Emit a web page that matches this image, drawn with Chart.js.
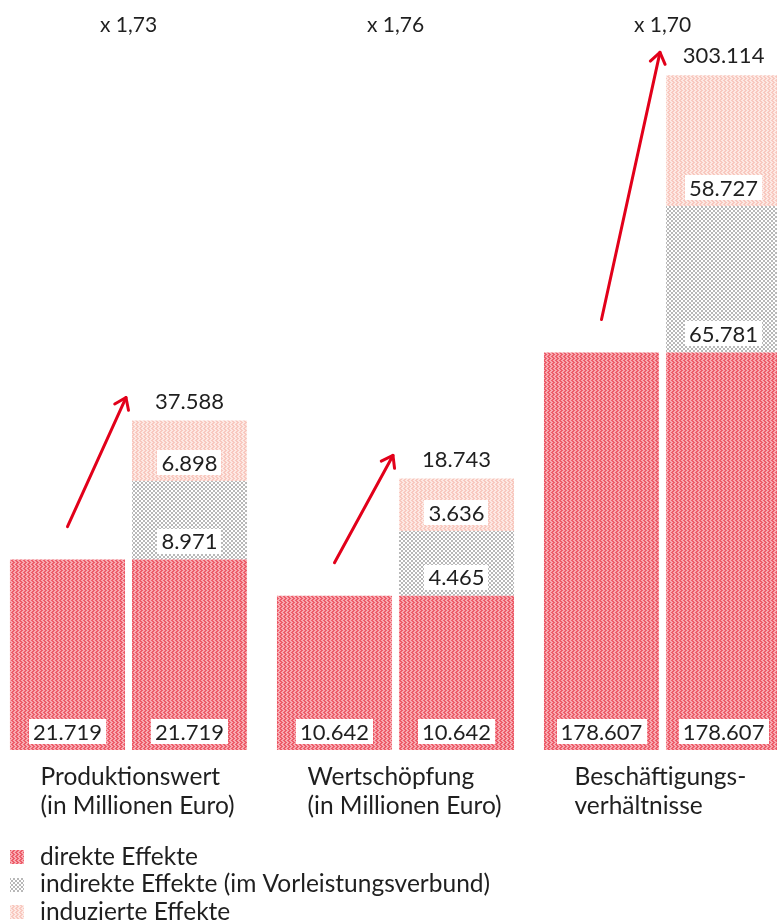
<!DOCTYPE html>
<html><head><meta charset="utf-8">
<script src="https://cdn.jsdelivr.net/npm/chart.js@4.4.1/dist/chart.umd.min.js"></script>
<style>
html,body{margin:0;padding:0;background:#fff;overflow:hidden;width:777px;height:923px}
#wrap{position:absolute;left:-5px;top:0;width:801px;height:923px}
</style></head><body><div id="wrap"><canvas id="c"></canvas></div>
<script>
// ---- data ----
const categories = [['Produktionswert','(in Millionen Euro)'],['Wertschöpfung','(in Millionen Euro)'],['Beschäftigungs-','verhältnisse']];
const direkt = [21719, 10642, 178607];
const indirekt = [8971, 4465, 65781];
const induziert = [6898, 3636, 58727];
const gesamt = [37588, 18743, 303114];
const multiplikator = ['x 1,73', 'x 1,76', 'x 1,70'];
const seriesNames = ['direkte Effekte', 'indirekte Effekte (im Vorleistungsverbund)', 'induzierte Effekte'];
const axisMax = [81000, 49000, 319000];

// ---- styles ----
const FONT = 'Lato, "Open Sans", sans-serif';
const TEXT = '#1f1f1f';
const RED = '#e2001a';
function makePattern(size, bg, fg, cells) {
  const c = document.createElement('canvas'); c.width = c.height = size;
  const x = c.getContext('2d'); x.fillStyle = bg; x.fillRect(0, 0, size, size);
  x.fillStyle = fg; cells.forEach(([a, b, w, h]) => x.fillRect(a, b, w, h));
  return x.createPattern(c, 'repeat');
}
const zig = [[0,0,2,1],[1,1,2,1],[2,2,2,1],[1,3,2,1]];
const patDirect = makePattern(4, '#f8aab1', '#ec5c69', zig);
const patIndirect = makePattern(4, '#ffffff', '#b8b8b8', [[0,0,2,2],[2,2,2,2]]);
const patInduced = makePattern(4, '#fde9e4', '#f8c8bf', zig);
const patterns = [patDirect, patIndirect, patInduced];

function fmt(v) { return String(v).replace(/\B(?=(\d{3})+(?!\d))/g, '.'); }

// ---- datasets ----
const datasets = [];
for (let g = 0; g < 3; g++) {
  const only = v => categories.map((_, i) => i === g ? v : null);
  datasets.push({ label: seriesNames[0], role: 'left', grp: g, data: only(direkt[g]), stack: 'L', yAxisID: 'y' + g, backgroundColor: patDirect });
  datasets.push({ label: seriesNames[0], role: 'r0', grp: g, data: only(direkt[g]), stack: 'R', yAxisID: 'y' + g, backgroundColor: patDirect });
  datasets.push({ label: seriesNames[1], role: 'r1', grp: g, data: only(indirekt[g]), stack: 'R', yAxisID: 'y' + g, backgroundColor: patIndirect });
  datasets.push({ label: seriesNames[2], role: 'r2', grp: g, data: only(induziert[g]), stack: 'R', yAxisID: 'y' + g, backgroundColor: patInduced });
}

const scales = {
  x: {
    stacked: true, offset: true,
    grid: { display: false }, border: { display: false },
    ticks: { font: { family: FONT, size: 24.5, lineHeight: 1.18 }, color: TEXT, align: 'start', labelOffset: -88,
             padding: 5, autoSkip: false, maxRotation: 0, minRotation: 0 },
    afterFit: s => { s.height = 173; s.paddingLeft = 0; s.paddingRight = 0; }
  }
};
for (let g = 0; g < 3; g++) scales['y' + g] = { display: false, stacked: true, min: 0, max: axisMax[g] };

function elFor(chart, role, g) {
  const i = chart.data.datasets.findIndex(d => d.role === role && d.grp === g);
  return chart.getDatasetMeta(i).data[g];
}

const overlay = {
  id: 'overlay',
  afterDatasetsDraw(chart) {
    const ctx = chart.ctx;
    ctx.save();
    // value boxes
    ctx.font = '22px ' + FONT;
    ctx.textAlign = 'center'; ctx.textBaseline = 'middle';
    chart.data.datasets.forEach((ds, di) => {
      const el = chart.getDatasetMeta(di).data[ds.grp];
      const v = ds.data[ds.grp];
      if (!el || v == null) return;
      const t = fmt(v);
      const w = ctx.measureText(t).width + 8, h = 25;
      const bottom = el.base - 6;
      ctx.fillStyle = '#ffffff';
      ctx.fillRect(Math.round(el.x - w / 2), Math.round(bottom - h), Math.round(w), h);
      ctx.fillStyle = TEXT;
      ctx.fillText(t, el.x, bottom - h / 2 + 1);
    });
    // totals, multipliers, arrows
    for (let g = 0; g < 3; g++) {
      const top = elFor(chart, 'r2', g);
      const left = elFor(chart, 'left', g);
      ctx.fillStyle = TEXT;
      ctx.font = '22px ' + FONT;
      ctx.fillText(fmt(gesamt[g]), top.x, top.y - 19);
      ctx.font = '21px ' + FONT;
      ctx.fillText(multiplikator[g], chart.scales.x.getPixelForValue(g), 25);
      const x1 = left.x, y1 = left.y - 33;
      const x2 = top.x - top.width / 2 - 6, y2 = top.y - 23;
      ctx.strokeStyle = RED; ctx.lineWidth = 3; ctx.lineCap = 'round'; ctx.lineJoin = 'round';
      ctx.beginPath(); ctx.moveTo(x1, y1); ctx.lineTo(x2, y2); ctx.stroke();
      const a = Math.atan2(y2 - y1, x2 - x1), L = 13, sp = 0.62;
      ctx.beginPath();
      ctx.moveTo(x2 - L * Math.cos(a - sp), y2 - L * Math.sin(a - sp));
      ctx.lineTo(x2, y2);
      ctx.lineTo(x2 - L * Math.cos(a + sp), y2 - L * Math.sin(a + sp));
      ctx.stroke();
    }
    // legend
    ctx.textAlign = 'left';
    ctx.font = '24.5px ' + FONT;
    seriesNames.forEach((n, i) => {
      const y = 857 + i * 27.5;
      ctx.fillStyle = patterns[i];
      ctx.fillRect(15, Math.round(y - 7), 14, 14);
      ctx.fillStyle = TEXT;
      ctx.fillText(n, 45, y);
    });
    ctx.restore();
  }
};

new Chart(document.getElementById('c'), {
  type: 'bar',
  data: { labels: categories, datasets },
  options: {
    responsive: true, maintainAspectRatio: false, animation: false,
    layout: { padding: { top: 40, left: 0, right: 0, bottom: 0 } },
    datasets: { bar: { barPercentage: 0.943, categoryPercentage: 0.914, borderWidth: 0 } },
    plugins: { legend: { display: false }, tooltip: { enabled: false } },
    scales
  },
  plugins: [overlay]
});
</script></body></html>
